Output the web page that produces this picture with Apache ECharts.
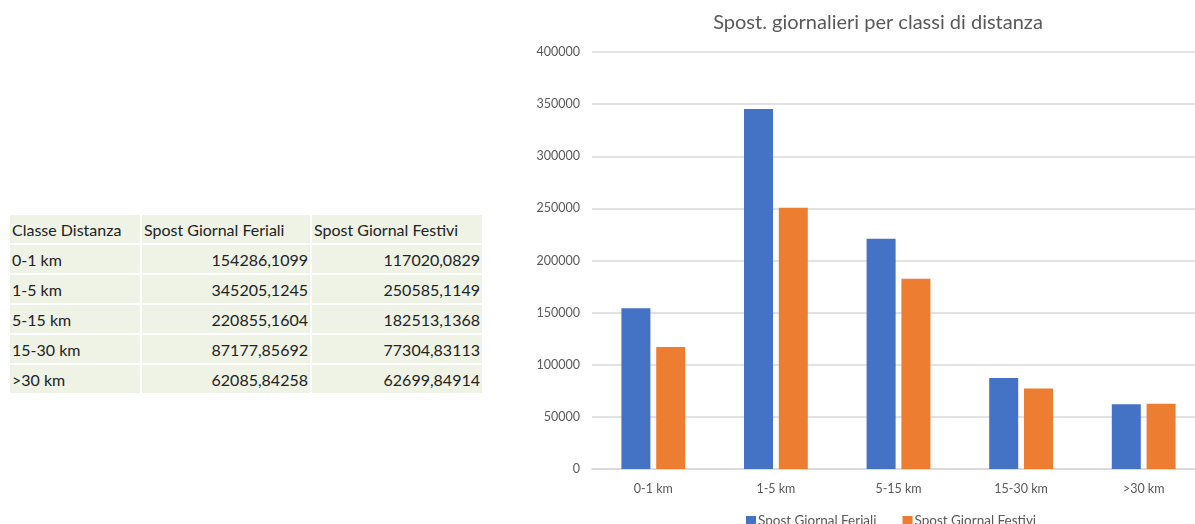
<!DOCTYPE html>
<html>
<head>
<meta charset="utf-8">
<script src="https://cdn.jsdelivr.net/npm/echarts@6/dist/echarts.min.js"></script>
<style>
  html, body { margin: 0; padding: 0; background: #fff; }
  #wrap { position: relative; width: 1195px; height: 524px; overflow: hidden; }
  #chart { position: absolute; left: 0; top: 0; width: 1210px; height: 524px; }
  #tab {
    position: absolute; left: 8px; top: 213px;
    border-collapse: separate; border-spacing: 2px;
    font-family: Lato, "Noto Sans", sans-serif; font-size: 16px; color: #222;
  }
  #tab td { background: #eef3e6; height: 28px; padding: 0 2px; white-space: nowrap; }
  #tab td.n { text-align: right; }
</style>
</head>
<body>
<div id="wrap">
  <table id="tab"></table>
  <div id="chart"></div>
</div>
<script>
var headers = ["Classe Distanza", "Spost Giornal Feriali", "Spost Giornal Festivi"];
var categories = ["0-1 km", "1-5 km", "5-15 km", "15-30 km", ">30 km"];
var feriali = [154286.1099, 345205.1245, 220855.1604, 87177.85692, 62085.84258];
var festivi = [117020.0829, 250585.1149, 182513.1368, 77304.83113, 62699.84914];
var yTicks = { min: 0, max: 400000, interval: 50000 };

// tabella a sinistra
var tab = document.getElementById("tab");
var colW = [126, 164, 166];
var html = "<tr>";
headers.forEach(function (h, i) {
  html += '<td style="width:' + colW[i] + 'px">' + h + "</td>";
});
html += "</tr>";
categories.forEach(function (c, i) {
  html += "<tr><td>" + c + "</td>";
  html += '<td class="n">' + String(feriali[i]).replace(".", ",") + "</td>";
  html += '<td class="n">' + String(festivi[i]).replace(".", ",") + "</td></tr>";
});
tab.innerHTML = html;

var myChart = echarts.init(document.getElementById("chart"));
var txt = "#595959";
var option = {
  textStyle: { fontFamily: "Lato, 'Noto Sans', sans-serif" },
  title: {
    text: "Spost. giornalieri per classi di distanza",
    left: 873,
    textAlign: "center",
    top: 8,
    textStyle: { fontSize: 20, fontWeight: "normal", color: txt, fontFamily: "Lato, 'Noto Sans', sans-serif" }
  },
  legend: {
    data: ["Spost Giornal Feriali", "Spost Giornal Festivi"],
    left: 741,
    top: 509,
    icon: "rect",
    itemWidth: 10,
    itemHeight: 10,
    itemGap: 26,
    textStyle: { fontSize: 13.5, color: txt, padding: [0, 0, 0, -3] }
  },
  grid: { left: 592, right: 5, top: 52, bottom: 55 },
  xAxis: {
    type: "category",
    data: categories,
    axisLine: { lineStyle: { color: "#d9d9d9", width: 1.5 } },
    axisTick: { show: false },
    axisLabel: { color: txt, fontSize: 12.5, margin: 13 }
  },
  yAxis: {
    type: "value",
    min: yTicks.min,
    max: yTicks.max,
    interval: yTicks.interval,
    axisLine: { show: false },
    axisTick: { show: false },
    axisLabel: { color: txt, fontSize: 12.5, margin: 12, formatter: function (v) { return String(v); } },
    splitLine: { lineStyle: { color: "#d9d9d9", width: 1.5 } }
  },
  series: [
    {
      name: "Spost Giornal Feriali",
      type: "bar",
      data: feriali,
      barWidth: 29,
      barGap: "20%",
      itemStyle: { color: "#4472c4" }
    },
    {
      name: "Spost Giornal Festivi",
      type: "bar",
      data: festivi,
      barWidth: 29,
      itemStyle: { color: "#ed7d31" }
    }
  ]
};
option && myChart.setOption(option);
</script>
</body>
</html>
